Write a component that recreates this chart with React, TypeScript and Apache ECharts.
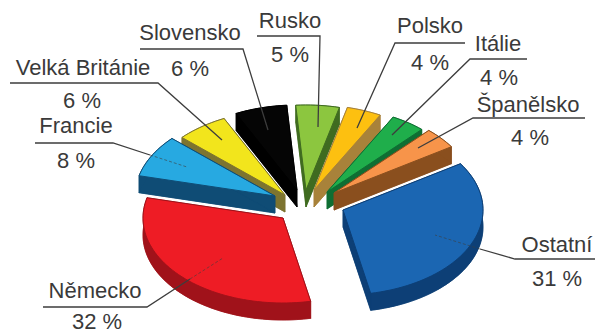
import React, { useEffect, useRef } from "react";
import * as echarts from "echarts";

// Czech export shares by destination, in pie order (clockwise from the right-hand slice)
const countries = ["Ostatní", "Německo", "Francie", "Velká Británie", "Slovensko", "Rusko", "Polsko", "Itálie", "Španělsko"];
const shares = [31, 32, 8, 6, 6, 5, 4, 4, 4];
const topColors = ["#1b66b2", "#ee1c25", "#27a9e1", "#f2e51c", "#050505", "#8cc63f", "#fdc010", "#1fae4b", "#f7944a"];
const sideColors = ["#0d3f76", "#a0121a", "#0f4c75", "#7d7430", "#000000", "#3f6b20", "#a8823a", "#0f6e33", "#8a4f1e"];

// Where each exploded slice has its tip on the page
const tipX = [343, 283, 275, 285, 297, 306, 314, 327, 334];
const tipY = [210, 218, 196, 195, 190, 190, 190, 192, 193];

// Painting order, back to front
const paintOrder = [5, 4, 6, 3, 7, 2, 8, 0, 1];

const RX = 140;
const RY = 85;
const DEPTH = 17;
const START_DEG = -33;

// Callouts: text centre for the name and the value, the solid leader, and its fainter run over the slice
const valueLabels = shares.map((s) => `${s} %`);
const namePos = [[557, 244], [95, 290], [76, 125], [83, 67], [190, 32], [290, 20], [430, 25], [498, 43], [528, 104]];
const valuePos = [[557, 278], [97, 321], [76, 160], [82, 100], [190, 68], [290, 54], [430, 62], [499, 77], [530, 137]];
const leaders = [
  [[595, 259], [515, 259], [480, 249]],
  [[43, 307], [147, 307], [190, 279]],
  [[35, 143], [113, 143], [150, 155]],
  [[10, 83], [158, 83], [222, 140]],
  [[140, 49], [243, 49], [268, 130]],
  [[257, 36], [320, 36], [318, 127]],
  [[465, 43], [395, 43], [357, 128]],
  [[527, 59], [470, 59], [392, 135]],
  [[585, 118], [473, 118], [418, 148]],
];
const overSlice = [
  [[480, 249], [435, 235]],
  [[190, 279], [223, 258]],
  [[150, 155], [187, 167]],
];

const sliceAngles = (() => {
  const total = shares.reduce((a, b) => a + b, 0);
  let acc = START_DEG;
  return shares.map((s) => {
    const from = acc;
    acc += (s / total) * 360;
    return [from, acc];
  });
})();

function arcPoints(cx: number, cy: number, from: number, to: number) {
  const steps = Math.max(2, Math.ceil((to - from) / 2));
  const pts: number[][] = [];
  for (let i = 0; i <= steps; i++) {
    const a = ((from + ((to - from) * i) / steps) * Math.PI) / 180;
    pts.push([cx + RX * Math.cos(a), cy + RY * Math.sin(a)]);
  }
  return pts;
}

function renderSlice(_params: any, api: any) {
  const i = api.value(0);
  const [from, to] = sliceAngles[i];
  const cx = tipX[i];
  const cy = tipY[i];
  const top = arcPoints(cx, cy, from, to);
  const low = top.map((p) => [p[0], p[1] + DEPTH]);
  const tip = [cx, cy];
  const tipLow = [cx, cy + DEPTH];
  const wall = { fill: sideColors[i], stroke: sideColors[i], lineWidth: 0.6 };
  const first = top[0];
  const last = top[top.length - 1];
  const lowFirst = low[0];
  const lowLast = low[low.length - 1];
  return {
    type: "group",
    children: [
      { type: "polygon", shape: { points: [tipLow, ...low] }, style: wall },
      { type: "polygon", shape: { points: [tip, first, lowFirst, tipLow] }, style: wall },
      { type: "polygon", shape: { points: [tip, last, lowLast, tipLow] }, style: wall },
      { type: "polygon", shape: { points: [...top, ...low.slice().reverse()] }, style: wall },
      {
        type: "polygon",
        shape: { points: [tip, ...top] },
        style: { fill: topColors[i], stroke: sideColors[i], lineWidth: 1 },
      },
    ],
  };
}

const TEXT_STYLE = { fill: "#3a3a3a", fontFamily: "Liberation Sans", fontSize: 22, textAlign: "center", textVerticalAlign: "middle" };

export default function App() {
  const ref = useRef<HTMLDivElement>(null);
  useEffect(() => {
    const chart = echarts.init(ref.current!, null, { renderer: "svg" });
    const lines = leaders.map((points) => ({
      type: "polyline",
      shape: { points },
      style: { stroke: "#3d3d3d", lineWidth: 1.3, fill: "none" },
      z: 10,
    }));
    const faint = overSlice.map((points) => ({
      type: "polyline",
      shape: { points },
      style: { stroke: "#3d3d3d", lineWidth: 1, lineDash: [3, 2], opacity: 0.6, fill: "none" },
      z: 10,
    }));
    const labels = countries.flatMap((name, i) => [
      { type: "text", x: namePos[i][0], y: namePos[i][1], style: { ...TEXT_STYLE, text: name }, z: 11 },
      { type: "text", x: valuePos[i][0], y: valuePos[i][1], style: { ...TEXT_STYLE, text: valueLabels[i] }, z: 11 },
    ]);
    chart.setOption({
      animation: false,
      backgroundColor: "#ffffff",
      series: [
        {
          type: "custom",
          coordinateSystem: "none",
          renderItem: renderSlice,
          data: paintOrder.map((i) => [i, shares[i]]),
          silent: true,
        },
      ],
      graphic: [...lines, ...faint, ...labels],
    });
    return () => chart.dispose();
  }, []);
  return <div ref={ref} style={{ position: "absolute", left: 0, top: 0, width: 595, height: 333 }} />;
}
